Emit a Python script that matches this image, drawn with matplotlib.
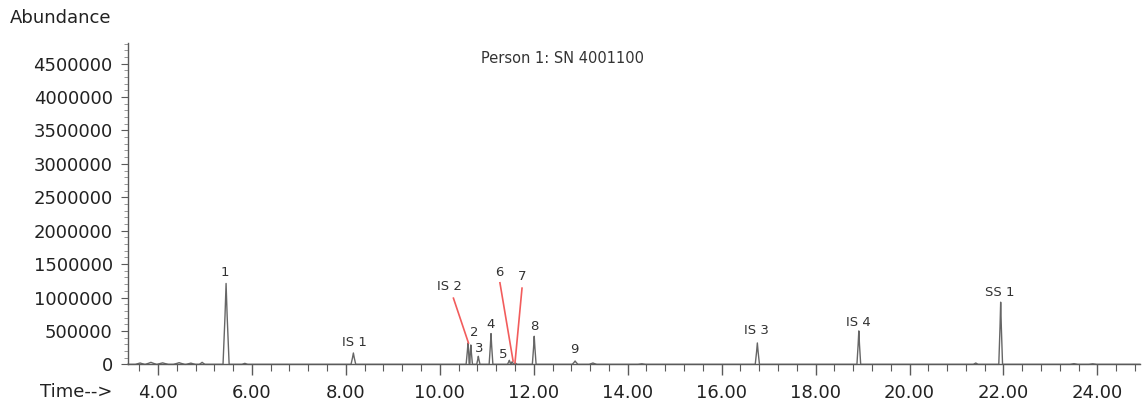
import matplotlib
matplotlib.use("Agg")
import matplotlib.pyplot as plt
from matplotlib.ticker import MultipleLocator, FuncFormatter

plt.rcParams["font.family"] = ["DejaVu Sans"]

# peaks: retention time (min), abundance, half width (min)
peak_times = [3.62, 3.85, 4.10, 4.45, 4.70, 4.94, 5.45, 5.85, 8.16, 10.60, 10.66, 10.82,
              11.09, 11.48, 11.54, 11.61, 12.01, 12.88, 13.26, 14.3, 16.76, 18.92,
              21.41, 21.94, 23.5, 23.9]
peak_heights = [20000, 30000, 22000, 25000, 18000, 30000, 1210000, 15000, 170000, 320000,
                290000, 120000, 460000, 60000, 40000, 20000, 420000, 50000, 20000, 8000,
                320000, 500000, 20000, 930000, 10000, 8000]
peak_widths = [0.1, 0.12, 0.12, 0.12, 0.1, 0.06, 0.065, 0.06, 0.05, 0.04, 0.035, 0.035,
               0.04, 0.04, 0.035, 0.035, 0.04, 0.06, 0.08, 0.08, 0.045, 0.04, 0.05,
               0.04, 0.08, 0.08]

# labels (text, x, y) and red leader lines
labels = ["1", "IS 1", "IS 2", "2", "3", "4", "5", "6", "7", "8", "9", "IS 3", "IS 4", "SS 1"]
label_x = [5.43, 8.19, 10.20, 10.73, 10.84, 11.07, 11.35, 11.26, 11.75, 12.01, 12.86,
           16.75, 18.92, 21.92]
label_y = [1380000, 330000, 1160000, 480000, 240000, 590000, 140000, 1380000, 1310000,
           570000, 220000, 510000, 630000, 1070000]
leader_start = [(10.29, 990000), (11.28, 1220000), (11.75, 1140000)]
leader_end = [(10.61, 320000), (11.56, 50000), (11.60, 20000)]

x_min, x_max = 3.36, 24.9
y_max = 4810000

# build trace from the peak list
pts = [(x_min, 0.0), (x_max, 0.0)]
for t, h, w in zip(peak_times, peak_heights, peak_widths):
    pts += [(t - w, 0.0), (t - w * 0.35, h * 0.6), (t, h), (t + w * 0.35, h * 0.6), (t + w, 0.0)]
pts.sort()
tx = [p[0] for p in pts]
ty = [p[1] for p in pts]

fig = plt.figure(figsize=(11.42, 4.08), dpi=100)
ax = fig.add_axes([0.112, 0.107, 0.886, 0.788])

gray = "#5a5a5a"
ax.plot(tx, ty, color="#666666", lw=1.0, clip_on=False)

for s, e in zip(leader_start, leader_end):
    ax.plot([s[0], e[0]], [s[1], e[1]], color="#f25c5c", lw=1.2)

for txt, lx, ly in zip(labels, label_x, label_y):
    ax.text(lx, ly, txt, ha="center", va="center", fontsize=9.5, color="#333333")

ax.set_xlim(x_min, x_max)
ax.set_ylim(0, y_max)

for side in ["top", "right"]:
    ax.spines[side].set_visible(False)
for side in ["left", "bottom"]:
    ax.spines[side].set_color(gray)
    ax.spines[side].set_linewidth(1.0)

ax.xaxis.set_major_locator(MultipleLocator(2.0))
ax.xaxis.set_minor_locator(MultipleLocator(0.4))
ax.xaxis.set_major_formatter(FuncFormatter(lambda v, p: f"{v:.2f}"))
ax.yaxis.set_major_locator(MultipleLocator(500000))
ax.yaxis.set_minor_locator(MultipleLocator(100000))
ax.yaxis.set_major_formatter(FuncFormatter(lambda v, p: f"{int(v)}"))

ax.tick_params(axis="x", which="major", length=8, width=1.0, color=gray,
               labelsize=13, labelcolor="#222222", pad=6)
ax.tick_params(axis="x", which="minor", length=5, width=0.8, color=gray)
ax.tick_params(axis="y", which="major", length=5, width=0.8, color=gray,
               labelsize=13, labelcolor="#222222", pad=6)
ax.tick_params(axis="y", which="minor", length=3, width=0.6, color="#888888")

fig.text(0.098, 0.039, "Time-->", ha="right", va="center", fontsize=13, color="#222222")
fig.text(0.009, 0.955, "Abundance", ha="left", va="center", fontsize=13, color="#222222")
ax.text(0.43, 0.952, "Person 1: SN 4001100", transform=ax.transAxes, ha="center",
        va="center", fontsize=10.5, color="#333333")

fig.savefig("out.png", dpi=100)
